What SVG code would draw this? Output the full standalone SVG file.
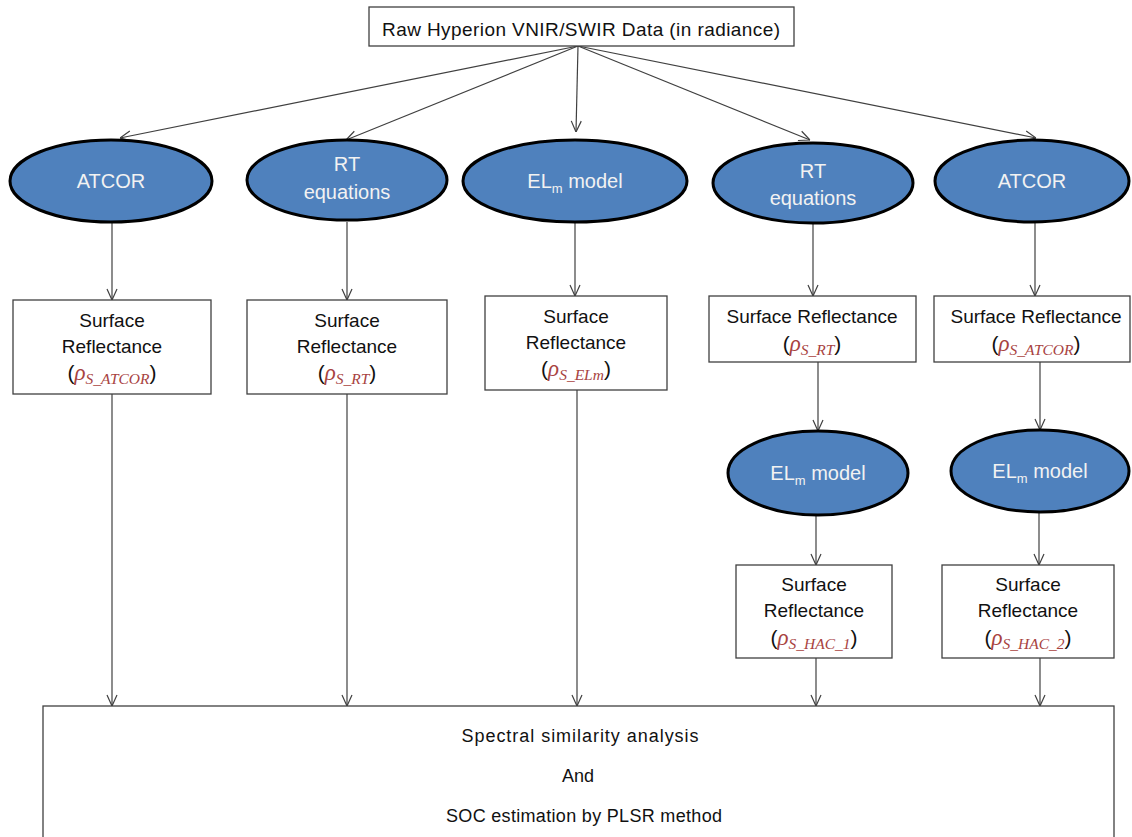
<svg xmlns="http://www.w3.org/2000/svg" width="1132" height="837" viewBox="0 0 1132 837">
<defs>
<marker id="arr" viewBox="0 0 12 12" refX="12" refY="6" markerWidth="12" markerHeight="12" markerUnits="userSpaceOnUse" orient="auto">
<path d="M1,1 L12,6 L1,11" fill="none" stroke="#404040" stroke-width="1.2"/>
</marker>
<style>
.box{fill:#fff;stroke:#404040;stroke-width:1.3}
.ell{fill:#4F81BD;stroke:#000;stroke-width:3}
.t{font-family:"Liberation Sans",Arial,sans-serif;font-size:19px;fill:#111;text-anchor:middle}
.w{font-family:"Liberation Sans",Arial,sans-serif;font-size:20px;fill:#f2f2f2;text-anchor:middle}
.b{font-family:"Liberation Sans",Arial,sans-serif;font-size:18px;fill:#111;text-anchor:middle}
.r{font-family:"Liberation Serif","Times New Roman",serif;font-style:italic;fill:#A8433F}
.c{stroke:#404040;stroke-width:1.2;fill:none;marker-end:url(#arr)}
</style>
</defs>
<rect width="1132" height="837" fill="#fff"/>

<g id="connectors">
<line class="c" x1="578" y1="46" x2="120" y2="138"/>
<line class="c" x1="578" y1="46" x2="346" y2="140"/>
<line class="c" x1="578" y1="46" x2="576" y2="132"/>
<line class="c" x1="578" y1="46" x2="810" y2="140"/>
<line class="c" x1="578" y1="46" x2="1036" y2="138"/>
<line class="c" x1="112" y1="222" x2="112" y2="300"/>
<line class="c" x1="347" y1="222" x2="347" y2="300"/>
<line class="c" x1="575" y1="222" x2="575" y2="296"/>
<line class="c" x1="813" y1="224" x2="813" y2="296"/>
<line class="c" x1="1035" y1="222" x2="1035" y2="296"/>
<line class="c" x1="818" y1="362" x2="818" y2="431"/>
<line class="c" x1="1040" y1="362" x2="1040" y2="430"/>
<line class="c" x1="816" y1="515" x2="816" y2="565"/>
<line class="c" x1="1039" y1="513" x2="1039" y2="565"/>
<line class="c" x1="112" y1="394" x2="112" y2="706"/>
<line class="c" x1="347" y1="394" x2="347" y2="706"/>
<line class="c" x1="577" y1="390" x2="577" y2="706"/>
<line class="c" x1="816" y1="658" x2="816" y2="706"/>
<line class="c" x1="1040" y1="658" x2="1040" y2="706"/>
</g>

<g id="raw">
<rect class="box" x="369" y="7" width="425" height="39"/>
<text class="t" x="581" y="36" textLength="398">Raw Hyperion VNIR/SWIR Data (in radiance)</text>
</g>

<g id="atcor1">
<ellipse class="ell" cx="111" cy="181" rx="101" ry="41"/>
<text class="w" x="111" y="188">ATCOR</text>
</g>
<g id="rt1">
<ellipse class="ell" cx="347" cy="180" rx="100" ry="40"/>
<text class="w" x="347" y="171">RT</text>
<text class="w" x="347" y="199">equations</text>
</g>
<g id="elm1">
<ellipse class="ell" cx="575" cy="181" rx="112" ry="41"/>
<text class="w" x="575" y="188">EL<tspan font-size="13" dy="5">m</tspan><tspan dy="-5"> model</tspan></text>
</g>
<g id="rt2">
<ellipse class="ell" cx="813" cy="183" rx="100" ry="40"/>
<text class="w" x="813" y="178">RT</text>
<text class="w" x="813" y="205">equations</text>
</g>
<g id="atcor2">
<ellipse class="ell" cx="1032" cy="181" rx="97" ry="41"/>
<text class="w" x="1032" y="188">ATCOR</text>
</g>

<g id="sr_atcor">
<rect class="box" x="13" y="300" width="198" height="94"/>
<text class="t" x="112" y="327">Surface</text>
<text class="t" x="112" y="353">Reflectance</text>
<text class="t" x="112" y="380"><tspan font-size="21">(</tspan><tspan class="r" font-size="23">ρ</tspan><tspan class="r" font-size="15.5" dy="4">S_ATCOR</tspan><tspan dy="-4" font-size="21">)</tspan></text>
</g>
<g id="sr_rt">
<rect class="box" x="247" y="300" width="200" height="94"/>
<text class="t" x="347" y="327">Surface</text>
<text class="t" x="347" y="353">Reflectance</text>
<text class="t" x="347" y="380"><tspan font-size="21">(</tspan><tspan class="r" font-size="23">ρ</tspan><tspan class="r" font-size="15.5" dy="4">S_RT</tspan><tspan dy="-4" font-size="21">)</tspan></text>
</g>
<g id="sr_elm">
<rect class="box" x="485" y="296" width="182" height="94"/>
<text class="t" x="576" y="323">Surface</text>
<text class="t" x="576" y="349">Reflectance</text>
<text class="t" x="576" y="376"><tspan font-size="21">(</tspan><tspan class="r" font-size="23">ρ</tspan><tspan class="r" font-size="15.5" dy="4">S_ELm</tspan><tspan dy="-4" font-size="21">)</tspan></text>
</g>
<g id="sr_rt2">
<rect class="box" x="709" y="296" width="207" height="66"/>
<text class="t" x="812" y="323">Surface Reflectance</text>
<text class="t" x="812" y="351"><tspan font-size="21">(</tspan><tspan class="r" font-size="23">ρ</tspan><tspan class="r" font-size="15.5" dy="4">S_RT</tspan><tspan dy="-4" font-size="21">)</tspan></text>
</g>
<g id="sr_atcor2">
<rect class="box" x="934" y="296" width="196" height="66"/>
<text class="t" x="1036" y="323">Surface Reflectance</text>
<text class="t" x="1036" y="351"><tspan font-size="21">(</tspan><tspan class="r" font-size="23">ρ</tspan><tspan class="r" font-size="15.5" dy="4">S_ATCOR</tspan><tspan dy="-4" font-size="21">)</tspan></text>
</g>

<g id="elm2">
<ellipse class="ell" cx="818" cy="473" rx="90" ry="42"/>
<text class="w" x="818" y="480">EL<tspan font-size="13" dy="5">m</tspan><tspan dy="-5"> model</tspan></text>
</g>
<g id="elm3">
<ellipse class="ell" cx="1040" cy="471" rx="89" ry="41"/>
<text class="w" x="1040" y="478">EL<tspan font-size="13" dy="5">m</tspan><tspan dy="-5"> model</tspan></text>
</g>

<g id="sr_hac1">
<rect class="box" x="736" y="565" width="156" height="93"/>
<text class="t" x="814" y="591">Surface</text>
<text class="t" x="814" y="617">Reflectance</text>
<text class="t" x="814" y="645"><tspan font-size="21">(</tspan><tspan class="r" font-size="23">ρ</tspan><tspan class="r" font-size="15.5" dy="4">S_HAC_1</tspan><tspan dy="-4" font-size="21">)</tspan></text>
</g>
<g id="sr_hac2">
<rect class="box" x="942" y="565" width="172" height="93"/>
<text class="t" x="1028" y="591">Surface</text>
<text class="t" x="1028" y="617">Reflectance</text>
<text class="t" x="1028" y="645"><tspan font-size="21">(</tspan><tspan class="r" font-size="23">ρ</tspan><tspan class="r" font-size="15.5" dy="4">S_HAC_2</tspan><tspan dy="-4" font-size="21">)</tspan></text>
</g>

<g id="analysis">
<rect class="box" x="43" y="706" width="1071" height="140"/>
<text class="b" x="580" y="742" textLength="237">Spectral similarity analysis</text>
<text class="b" x="578" y="782">And</text>
<text class="b" x="584" y="822" textLength="276">SOC estimation by PLSR method</text>
</g>
</svg>
